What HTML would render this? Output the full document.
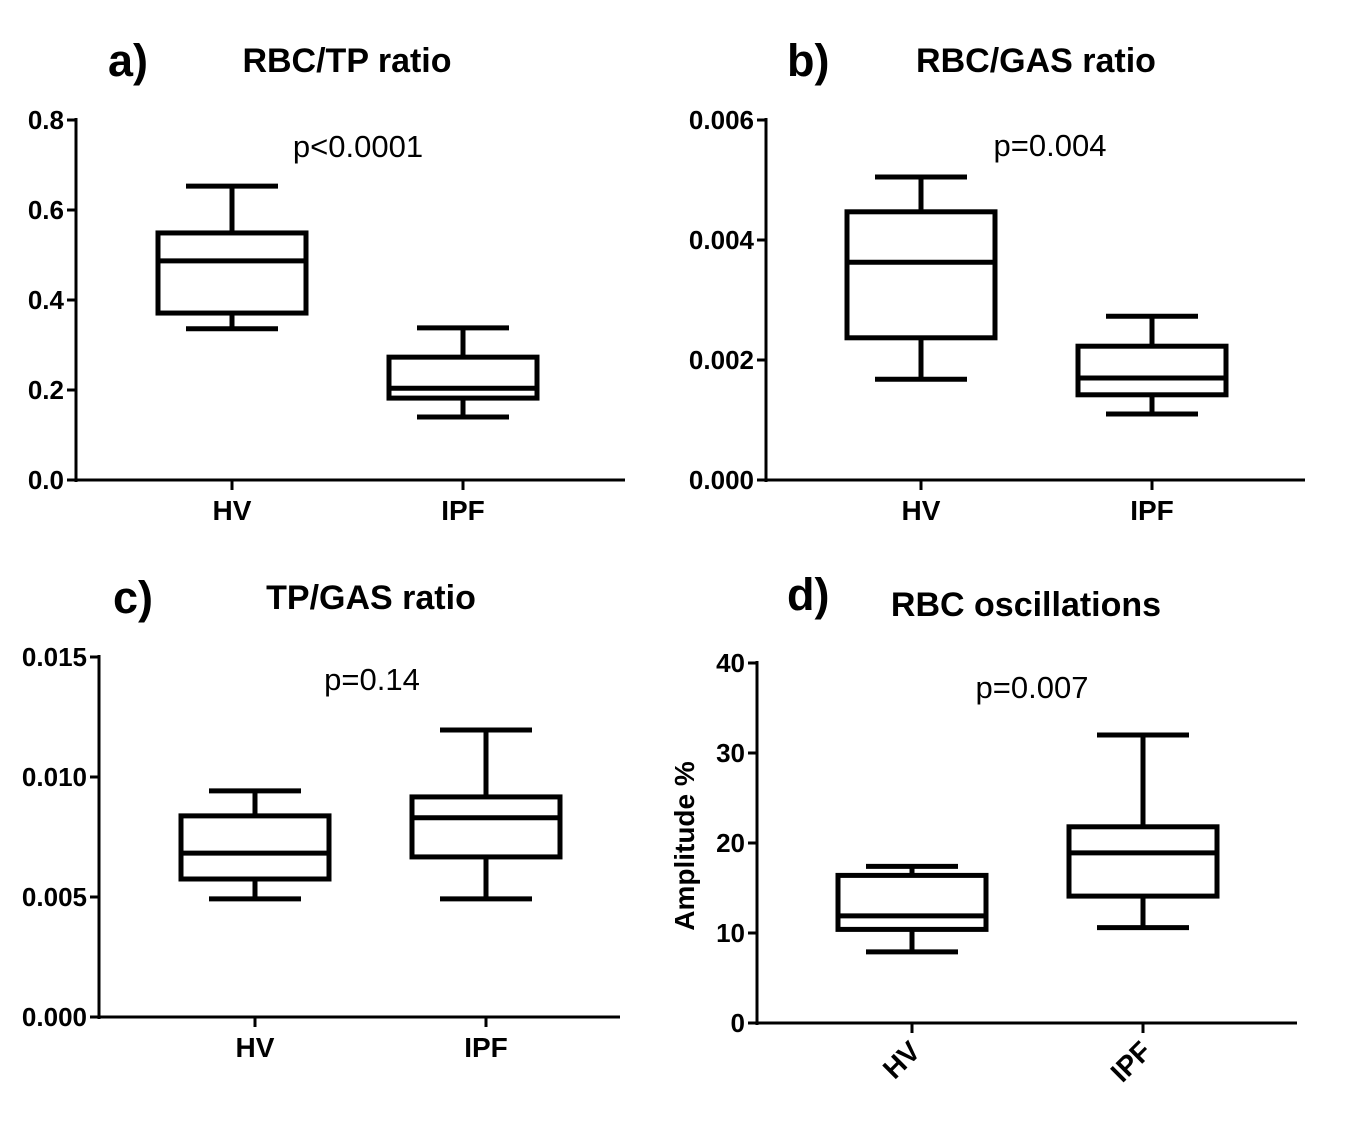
<!DOCTYPE html>
<html><head><meta charset="utf-8"><style>
html,body{margin:0;padding:0;background:#fff;}
svg{display:block;}
text{font-family:"Liberation Sans",Arial,sans-serif;fill:#000;}
</style></head>
<body>
<svg id="fig" width="1358" height="1134" viewBox="0 0 1358 1134"></svg>
<script>
const groups = ["HV","IPF"];
// [min, q1, median, q3, max] per group
const aHV = [0.336,0.371,0.487,0.549,0.653];
const aIPF = [0.14,0.182,0.204,0.273,0.338];
const bHV = [0.00168,0.00237,0.00363,0.00447,0.00505];
const bIPF = [0.0011,0.00142,0.0017,0.00223,0.00273];
const cHV = [0.00492,0.00575,0.00683,0.00838,0.00942];
const cIPF = [0.00492,0.00667,0.0083,0.00917,0.01196];
const dHV = [7.9,10.4,11.9,16.4,17.4];
const dIPF = [10.6,14.1,18.9,21.8,32];
const aTicks = ["0.0","0.2","0.4","0.6","0.8"];
const bTicks = ["0.000","0.002","0.004","0.006"];
const cTicks = ["0.000","0.005","0.010","0.015"];
const dTicks = ["0","10","20","30","40"];

const svg = document.getElementById('fig');
const NS = 'http://www.w3.org/2000/svg';
function mk(tag, attrs, parent){const e=document.createElementNS(NS,tag);for(const k in attrs)e.setAttribute(k,attrs[k]);(parent||svg).appendChild(e);return e;}

const panels = [
 {id:'a',letter:'a)',title:'RBC/TP ratio',p:'p<0.0001',ax:76,y0:480,y1:120,xEnd:625,vmax:0.8,ticks:aTicks,data:[aHV,aIPF],xs:[232,463],lx:108,ly:76,tx:347,ty:72,px:358,py:157,rot:false,ylab:null},
 {id:'b',letter:'b)',title:'RBC/GAS ratio',p:'p=0.004',ax:766,y0:480,y1:120,xEnd:1305,vmax:0.006,ticks:bTicks,data:[bHV,bIPF],xs:[921,1152],lx:787,ly:76,tx:1036,ty:72,px:1050,py:156,rot:false,ylab:null},
 {id:'c',letter:'c)',title:'TP/GAS ratio',p:'p=0.14',ax:99,y0:1017,y1:657,xEnd:620,vmax:0.015,ticks:cTicks,data:[cHV,cIPF],xs:[255,486],lx:113,ly:613,tx:371,ty:609,px:372,py:690,rot:false,ylab:null},
 {id:'d',letter:'d)',title:'RBC oscillations',p:'p=0.007',ax:757,y0:1023,y1:663,xEnd:1297,vmax:40,ticks:dTicks,data:[dHV,dIPF],xs:[912,1143],lx:787,ly:610,tx:1026,ty:616,px:1032,py:698,rot:true,ylab:'Amplitude %'}
];

panels.forEach(P=>{
  const g = mk('g',{});
  
  
  const Y = v => P.y0 - (v/P.vmax)*(P.y0-P.y1);
  const lt = mk('text',{x:P.lx,y:P.ly,'font-size':45,'font-weight':'bold'},g); lt.textContent=P.letter;
  
  
  const tt = mk('text',{x:P.tx,y:P.ty,'font-size':34,'font-weight':'bold','text-anchor':'middle'},g); tt.textContent=P.title;
  
  
  const pt = mk('text',{x:P.px,y:P.py,'font-size':31,'text-anchor':'middle'},g); pt.textContent=P.p;
  
  
  const ya = mk('line',{x1:P.ax,y1:P.y1-2,x2:P.ax,y2:P.y0+2,stroke:'#000','stroke-width':3},g);
  
  
  const xa = mk('line',{x1:P.ax-1,y1:P.y0,x2:P.xEnd,y2:P.y0,stroke:'#000','stroke-width':3},g);
  
  
  const n = P.ticks.length;
  P.ticks.forEach((t,i)=>{
    const v = P.vmax*i/(n-1), y = Y(v);
    mk('line',{x1:P.ax-9,y1:y,x2:P.ax,y2:y,stroke:'#000','stroke-width':3},g);
    const tl = mk('text',{x:P.ax-12,y:y+9,'font-size':26,'font-weight':'bold','text-anchor':'end'},g); tl.textContent=t;
    
    
  });
  if(P.ylab){
    const yl = mk('text',{x:0,y:0,'font-size':28,'font-weight':'bold','text-anchor':'middle',transform:`translate(694,${(P.y0+P.y1)/2+3}) rotate(-90)`},g); yl.textContent=P.ylab;
    
    
  }
  groups.forEach((gn,i)=>{
    const cx = P.xs[i];
    mk('line',{x1:cx,y1:P.y0,x2:cx,y2:P.y0+10,stroke:'#000','stroke-width':3},g);
    let xl;
    if(P.rot){
      xl = mk('text',{x:0,y:0,'font-size':28,'font-weight':'bold','text-anchor':'end',transform:`translate(${cx+10},${P.y0+30}) rotate(-45)`},g);
    } else {
      xl = mk('text',{x:cx,y:P.y0+40,'font-size':28,'font-weight':'bold','text-anchor':'middle'},g);
    }
    xl.textContent=gn;
    
    
    const d = P.data[i];
    const bg = mk('g',{stroke:'#000','stroke-width':5,fill:'none'},g);
    
    
    const hw=74, cw=46;
    mk('line',{x1:cx,y1:Y(d[0]),x2:cx,y2:Y(d[1])},bg);
    mk('line',{x1:cx,y1:Y(d[3]),x2:cx,y2:Y(d[4])},bg);
    mk('line',{x1:cx-cw,y1:Y(d[0]),x2:cx+cw,y2:Y(d[0])},bg);
    mk('line',{x1:cx-cw,y1:Y(d[4]),x2:cx+cw,y2:Y(d[4])},bg);
    mk('rect',{x:cx-hw,y:Y(d[3]),width:2*hw,height:Y(d[1])-Y(d[3]),fill:'#fff'},bg);
    mk('line',{x1:cx-hw,y1:Y(d[2]),x2:cx+hw,y2:Y(d[2])},bg);
  });
});
</script>
</body></html>
